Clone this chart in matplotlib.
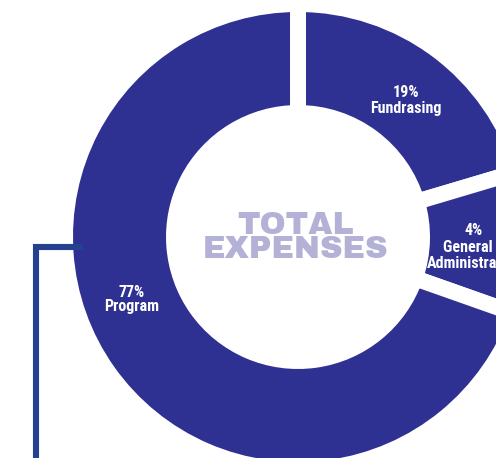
import matplotlib.pyplot as plt

# data
categories = ["Fundrasing", "General &\nAdministrative", "Program"]
label_pct = [19, 4, 77]
# angular share of each ring segment, as drawn in the picture
slice_share = [20.4, 10.0, 69.6]

RING = "#2e3192"
LINE = "#25408f"
CENTER_TXT = "#b3b1d6"

W, H = 496, 458

fig = plt.figure(figsize=(W / 100, H / 100), dpi=100)
ax = fig.add_axes([0, 0, 1, 1])

# donut, white strokes make the gaps
ax.pie(
    slice_share,
    startangle=90,
    counterclock=False,
    radius=233,
    center=(298, H - 237),
    colors=[RING] * len(slice_share),
    wedgeprops=dict(width=109, edgecolor="white", linewidth=11.5),
)

# connector line on the left
ax.plot([36, 36, 83], [0, H - 247, H - 247], color=LINE, lw=4.4,
        solid_joinstyle="miter", solid_capstyle="butt", zorder=5)

# center title
title_font = dict(family=["Archivo Black", "DejaVu Sans"], color=CENTER_TXT,
                  ha="center", va="baseline", fontsize=22.5)
ax.text(295.5, H - 234.5, "TOTAL", **title_font)
ax.text(295.5, H - 258.5, "EXPENSES", **title_font)

# segment labels
lab_font = dict(family=["Roboto Condensed", "Barlow Condensed", "DejaVu Sans"],
                fontweight="bold", color="white", ha="center", va="baseline",
                fontsize=11.5)
label_pos = [(406, 97, 113), (474, 235, 252), (132, 297, 311.5)]
for name, pct, (x, y1, y2) in zip(categories, label_pct, label_pos):
    ax.text(x, H - y1, f"{pct}%", **lab_font)
    lines = name.split("\n")
    for i, ln in enumerate(lines):
        ax.text(x, H - y2 - i * 16.5, ln, **lab_font)

ax.set_xlim(0, W)
ax.set_ylim(0, H)
ax.set_aspect("equal")
ax.set_axis_off()

plt.savefig("out.png", dpi=100)
